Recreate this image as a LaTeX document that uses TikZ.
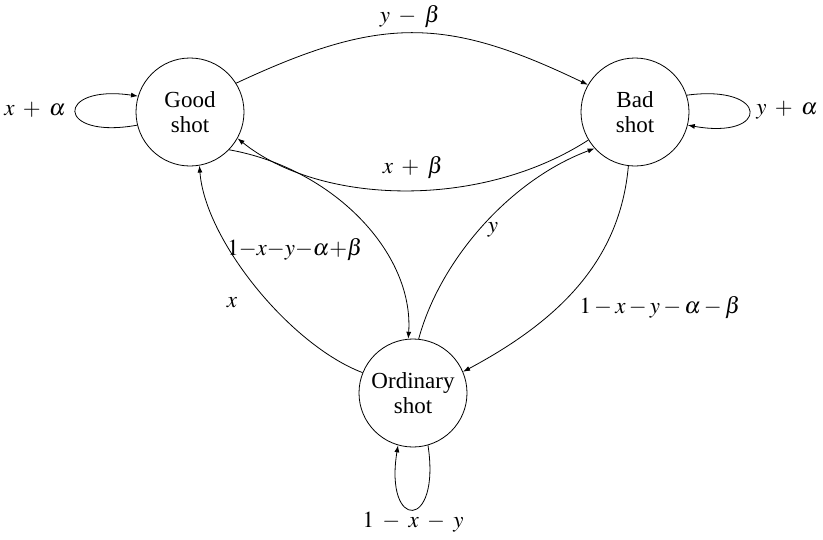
\documentclass[tikz,border=0pt]{standalone}
\usepackage{mathptmx}
\usepackage{fontspec}
\setmainfont{Liberation Serif}
\usetikzlibrary{arrows.meta}
\begin{document}
\begin{tikzpicture}[x=1pt,y=-1pt,
  state/.style={circle,draw,line width=0.8pt,minimum size=108pt,inner sep=0pt,align=center,font=\fontsize{23}{25}\selectfont},
  edge/.style={line width=0.8pt,-{Latex[length=7pt,width=5pt]}},
  lbl/.style={font=\fontsize{23}{25}\selectfont,inner sep=0pt}]
\useasboundingbox (0,0) rectangle (823,539);
\node[state] (G) at (190,112) {Good\\shot};
\node[state] (B) at (635,112) {Bad\\shot};
\node[state] (O) at (413,393) {Ordinary\\shot};
% self loops
\draw[edge] (G.194) .. controls (55,140) and (55,84) .. (G.163);
\draw[edge] (B.18) .. controls (770,84) and (770,140) .. (B.346);
\draw[edge] (O.286) .. controls (441,531) and (384,531) .. (O.254);
\node[lbl] (lg) at (35,110) {$x\;+\;\alpha$};
\node[lbl] (lb) at (787,110) {$y\;+\;\alpha$};
\node[lbl] (lo) at (413,522) {$1\;-\;x\;-\;y$};
% edges
\draw[edge] (G.32) .. controls (380,16) and (445,16) .. (B.150);
\node[lbl] (l1) at (410,17) {$y\;-\;\beta$};
\draw[edge] (B.211) .. controls (480,210) and (320,205) .. (G.331);
\node[lbl] (l2) at (413,168) {$x\;+\;\beta$};
\draw[edge] (G.316) .. controls (332,168) and (414,252) .. (O.95);
\node[lbl] (l3) at (295,250) {$1{-}x{-}y{-}\alpha{+}\beta$};
\draw[edge] (O.84) .. controls (440,260) and (510,180) .. (B.222);
\node[lbl] (l4) at (493,230) {$y$};
\draw[edge] (O.158) .. controls (290,345) and (205,240) .. (G.280);
\node[lbl] (l5) at (232,303) {$x$};
\draw[edge] (B.263) .. controls (620,260) and (560,320) .. (O.23);
\node[lbl] (l6) at (660,308) {$1-x-y-\alpha-\beta$};
\end{tikzpicture}
\end{document}
